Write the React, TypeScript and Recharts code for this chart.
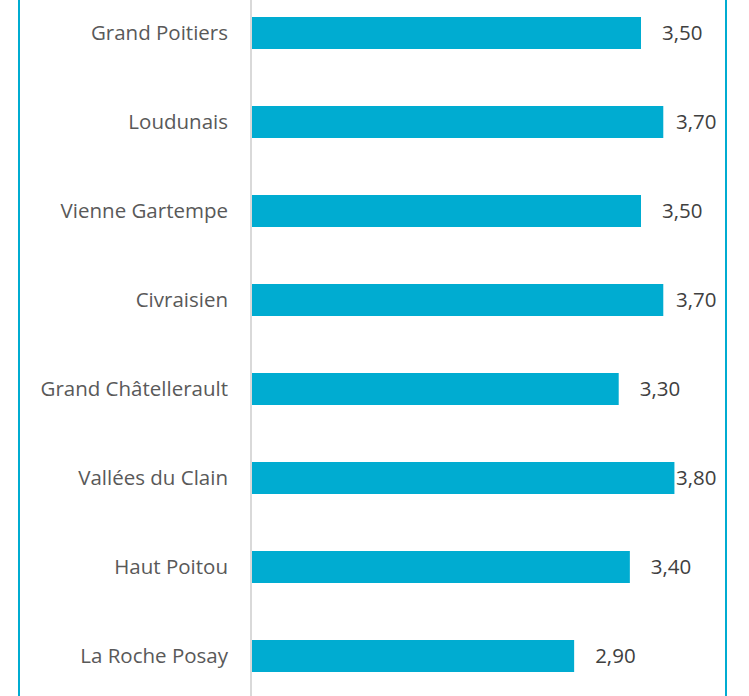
import { BarChart, Bar, XAxis, YAxis, LabelList } from 'recharts';

const categories = [
  'Grand Poitiers',
  'Loudunais',
  'Vienne Gartempe',
  'Civraisien',
  'Grand Châtellerault',
  'Vallées du Clain',
  'Haut Poitou',
  'La Roche Posay',
];
const values = [3.5, 3.7, 3.5, 3.7, 3.3, 3.8, 3.4, 2.9];

const data = categories.map((name, i) => ({ name, value: values[i] }));

const BAR = '#00ACD1';
const FONT = '"Open Sans", sans-serif';
const PLOT_RIGHT = 719;

function ValueLabel(props: any) {
  const { x, y, width, height, value } = props;
  const textW = 43;
  let tx = x + width + 21;
  if (tx + textW > PLOT_RIGHT) tx = Math.max(PLOT_RIGHT - textW, x + width + 1);
  return (
    <text
      x={tx}
      y={y + height / 2}
      dy="0.35em"
      fontSize={20.5}
      fontFamily={FONT}
      fill="#404040"
    >
      {Number(value).toFixed(2).replace('.', ',')}
    </text>
  );
}

export default function App() {
  return (
    <div
      style={{
        position: 'fixed',
        top: 0,
        left: 0,
        width: 749,
        height: 696,
        overflow: 'hidden',
        background: '#fff',
      }}
    >
      <div
        style={{
          position: 'absolute',
          left: 18,
          top: 0,
          width: 705,
          height: 696,
          borderLeft: `2px solid ${BAR}`,
          borderRight: `2px solid ${BAR}`,
        }}
      />
      <div style={{ position: 'absolute', top: -12, left: 0 }}>
        <BarChart
          layout="vertical"
          width={749}
          height={712}
          data={data}
          margin={{ top: 0, right: 30, bottom: 0, left: 0 }}
          barSize={32}
        >
          <XAxis type="number" domain={[0, 4.2]} hide />
          <YAxis
            type="category"
            dataKey="name"
            width={251}
            tickLine={false}
            tickSize={0}
            tickMargin={23}
            axisLine={{ stroke: '#d9d9d9', strokeWidth: 2 }}
            tick={{ fill: '#595959', fontSize: 20.5, fontFamily: FONT }}
            interval={0}
          />
          <Bar dataKey="value" fill={BAR} isAnimationActive={false}>
            <LabelList dataKey="value" content={ValueLabel} />
          </Bar>
        </BarChart>
      </div>
    </div>
  );
}
